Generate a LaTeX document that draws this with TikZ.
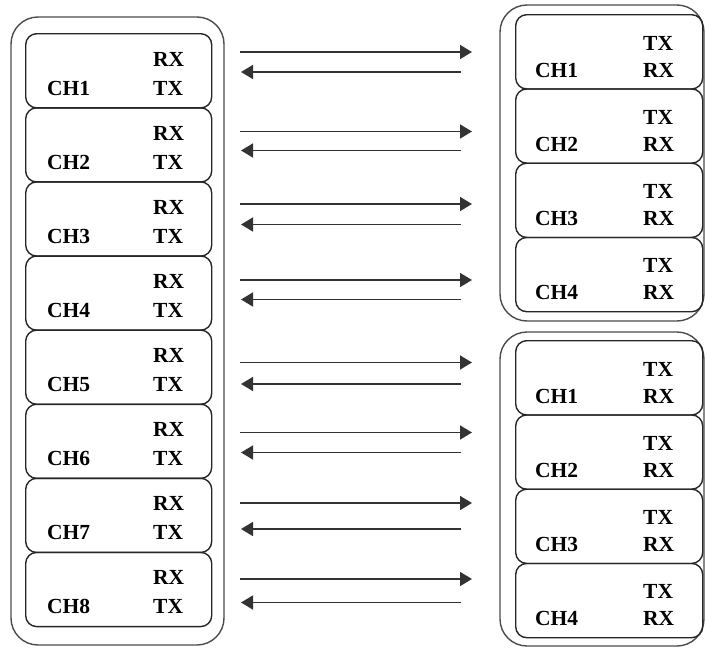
\documentclass[tikz,border=0pt]{standalone}
\usepackage{fontspec}
\setmainfont{Liberation Serif}
\usetikzlibrary{arrows.meta}
\begin{document}
\begin{tikzpicture}[x=1pt,y=-1pt,
  outerbox/.style={draw=black!70,line width=1.4pt,rounded corners=27pt},
  chbox/.style={draw=black!85,line width=1.4pt,rounded corners=11pt,minimum width=186pt,minimum height=74.2pt,anchor=north west,inner sep=0pt},
  rchbox/.style={chbox,minimum width=187pt,minimum height=74.25pt},
  lbl/.style={font=\fontsize{21.5}{22}\selectfont\bfseries,anchor=base west,inner sep=0pt,text=black},
  arr/.style={draw=black!80,line width=1.6pt,-{Triangle[length=12pt,width=14pt]}}]
\useasboundingbox (0,0) rectangle (705,648);
% outer frames
\draw[outerbox] (11,17) rectangle (224,645);
\draw[outerbox] (500,5) rectangle (704,321);
\draw[outerbox] (500,332) rectangle (704,646);
% left channel boxes
\foreach \i in {1,...,8}{
  \pgfmathsetmacro{\t}{33+(\i-1)*74.1}
  \node[chbox] (L\i) at (25,\t) {};
  \node[lbl] (Lrx\i) at (153,\t+33) {RX};
  \node[lbl] (Ltx\i) at (153,\t+62) {TX};
  \node[lbl] (Lch\i) at (47,\t+62) {CH\i};
}
% right channel boxes, group A and B
\foreach \i in {1,...,4}{
  \pgfmathsetmacro{\t}{14+(\i-1)*74.25}
  \node[rchbox] (A\i) at (515,\t) {};
  \node[lbl] (Atx\i) at (643,\t+36) {TX};
  \node[lbl] (Arx\i) at (643,\t+63) {RX};
  \node[lbl] (Ach\i) at (535,\t+63) {CH\i};
  \pgfmathsetmacro{\u}{340+(\i-1)*74.25}
  \node[rchbox] (B\i) at (515,\u) {};
  \node[lbl] (Btx\i) at (643,\u+36) {TX};
  \node[lbl] (Brx\i) at (643,\u+63) {RX};
  \node[lbl] (Bch\i) at (535,\u+63) {CH\i};
}
% arrows
\foreach \i/\ya/\yb in {1/52/72,2/131.5/150.5,3/204/224.5,4/280/299.5,5/362.5/384,6/432.5/452.5,7/503/529,8/579/602.5}{
  \coordinate (fs\i) at (240,\ya);
  \coordinate (fe\i) at (472,\ya);
  \coordinate (bs\i) at (461,\yb);
  \coordinate (be\i) at (241,\yb);
  \draw[arr] (fs\i) -- (fe\i);
  \draw[arr] (bs\i) -- (be\i);
}
\end{tikzpicture}
\end{document}
